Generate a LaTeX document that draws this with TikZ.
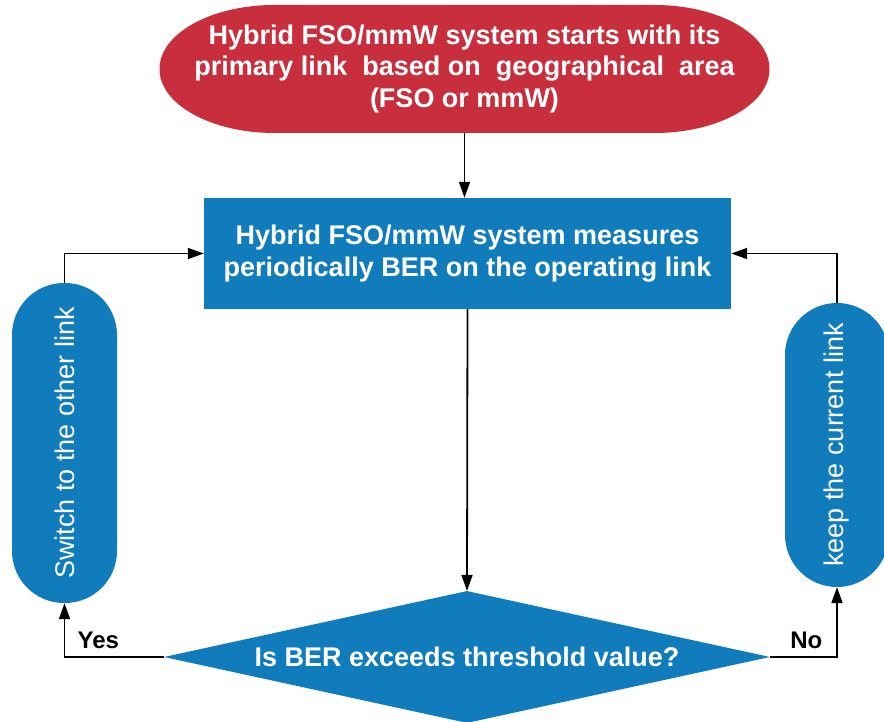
\documentclass[tikz,border=0pt]{standalone}
\usepackage{fontspec}
\setmainfont{Liberation Sans}
\usepackage{tikz}
\usetikzlibrary{shapes.geometric,arrows.meta,calc}
\definecolor{startred}{RGB}{200,46,60}
\definecolor{flowblue}{RGB}{16,124,188}

\begin{document}
\begin{tikzpicture}[
 x=1pt, y=1pt,
 terminal/.style={
      rectangle,
      fill=white,
      text=white,
      font=\bfseries\fontsize{27}{31.5}\selectfont,
      align=center,
      inner sep=0pt,
      minimum width=610pt,
      minimum height=128pt,
      path picture={
        \fill[startred] ($(path picture bounding box.north)+(-190,0)$) -- ++(380,0)
          arc[start angle=90, end angle=-90, x radius=115, y radius=64] -- ++(-380,0)
          arc[start angle=270, end angle=90, x radius=115, y radius=64] -- cycle;
      }
   },
   process/.style={
    rectangle,
    fill=flowblue,
    text=white,
    font=\bfseries\fontsize{27}{31.5}\selectfont,
    align=center,
    inner sep=0pt,
    minimum width=527pt,
    minimum height=111pt
   },
   decision/.style={
    diamond,
    shape aspect=4.6,
    fill=flowblue,
    text=white,
    font=\bfseries\fontsize{27}{31.5}\selectfont,
    inner sep=0pt,
    minimum width=606pt,
    minimum height=132pt
   },
   pill/.style={
    rectangle,
    rounded corners=52pt,
    fill=flowblue,
    text=white,
    font=\fontsize{27}{31.5}\selectfont,
    inner sep=0pt
   },
   arrow/.style={line width=1.8pt, -{Triangle[length=16pt,width=11pt]}},
   tag/.style={font=\bfseries\fontsize{24}{28}\selectfont}
 ]
 \useasboundingbox (0,0) rectangle (884,722);

 %measuring
 \node[process] (meas) at (467.5,468.5) {Hybrid FSO/mmW system measures\\periodically BER on the operating link};

 %start
 \node[terminal] (start) at ($(meas)+(-3,184.5)$) {Hybrid FSO/mmW system starts with its\\primary link\ \ based on\ \ geographical\ \ area\\(FSO or mmW)};
 %decision
 \node[decision] (dec) at ($(meas)+(-0.5,-403.5)$) {Is BER exceeds threshold value?};

 %switch / keep
 \node[pill, minimum width=105pt, minimum height=320pt] (switch) at ($(meas)+(-403,-189.5)$) {\rotatebox{90}{Switch to the other link}};
 \node[pill, minimum width=104pt, minimum height=284pt] (keep) at ($(meas)+(369.5,-191.5)$) {\rotatebox{90}{keep the current link}};

 %arrows
 \draw[arrow] (start.south) -- (start.south |- meas.north);
 \draw[arrow] (meas.south) -- (dec.north);

 \draw[arrow] (dec.west) -| node[tag, above=4pt, pos=0.33] {Yes} (switch.south);
 \draw[arrow] (dec.east) -| node[tag, above=4pt, pos=0.27] {No} (keep.south);

 \draw[arrow] (switch.north) |- (meas.west);
 \draw[arrow] (keep.north) |- (meas.east);
 \end{tikzpicture}
\end{document}
